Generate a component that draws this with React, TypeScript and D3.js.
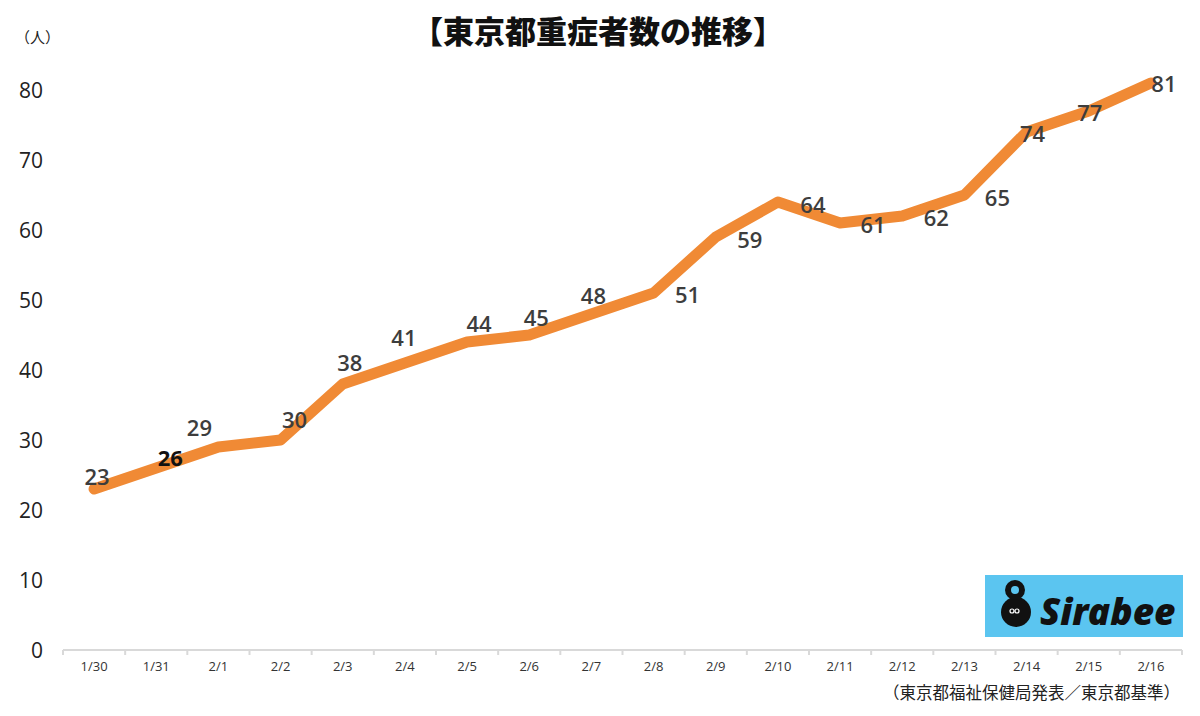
import React from "react";
import * as d3 from "d3";

const categories = ["1/30","1/31","2/1","2/2","2/3","2/4","2/5","2/6","2/7","2/8","2/9","2/10","2/11","2/12","2/13","2/14","2/15","2/16"];
const values = [23,26,29,30,38,41,44,45,48,51,59,64,61,62,65,74,77,81];
const yTicks = [0,10,20,30,40,50,60,70,80];
// label placement offsets (layout only)
const labelDx = [3,14,-19,14,7,-1,12,7,2,34,34,35,33,34,33,6,1,13];
const labelDy = [-12,-10,-19,-20,-21,-25,-18,-17,-18,2,3,3,2,2,3,2,2,1];

const W = 1200, H = 716;
const FONT = "'Noto Sans CJK JP', 'Noto Sans', sans-serif";
const NUM = "'Open Sans', 'Noto Sans', sans-serif";

export default function App() {
  const x = d3.scaleBand<string>().domain(categories).range([63, 1182]);
  const y = d3.scaleLinear().domain([0, 80]).range([650, 90]);
  const line = d3.line<number>()
    .x((_, i) => (x(categories[i]) as number) + x.bandwidth() / 2)
    .y(d => y(d));
  const edges = categories.map(c => x(c) as number).concat([1182]);
  return (
    <svg width={W} height={H} style={{ position: "absolute", left: 0, top: 0, background: "#fff" }}>
      <rect x={0} y={0} width={W} height={H} fill="#fff" />
      <text x={598} y={43} textAnchor="middle" fontFamily={FONT} fontWeight={900} fontSize={31} fill="#111">【東京都重症者数の推移】</text>
      <text x={15} y={43} fontFamily={FONT} fontSize={15} fill="#222">（人）</text>
      {yTicks.map(t => (
        <text key={t} x={43} y={y(t) + 8} textAnchor="end" fontFamily={NUM} fontSize={21} fill="#222">{t}</text>
      ))}
      <line x1={63} x2={1182} y1={650} y2={650} stroke="#d9d9d9" strokeWidth={2} />
      {edges.map((e, i) => (
        <line key={i} x1={e} x2={e} y1={650} y2={655} stroke="#d9d9d9" strokeWidth={2} />
      ))}
      {categories.map(c => (
        <text key={c} x={(x(c) as number) + x.bandwidth() / 2} y={671} textAnchor="middle" fontFamily={NUM} fontSize={13} fill="#333">{c}</text>
      ))}
      <rect x={985} y={575} width={198} height={62} fill="#5BC5F0" />
      <g>
        <circle cx={1016} cy={612} r={15} fill="#111" />
        <circle cx={1015} cy={590} r={7} fill="none" stroke="#111" strokeWidth={6} />
        <circle cx={1012} cy={611} r={2} fill="none" stroke="#fff" strokeWidth={1.2} />
        <circle cx={1017} cy={611} r={2} fill="none" stroke="#fff" strokeWidth={1.2} />
        <text x={1040} y={625} fontFamily="'Noto Sans', sans-serif" fontWeight={900} fontStyle="italic" fontSize={37} fill="#111">Sirabee</text>
      </g>
      <path d={line(values) as string} fill="none" stroke="#F08A35" strokeWidth={11} strokeLinejoin="round" strokeLinecap="round" />
      {values.map((v, i) => (
        <text key={i} x={(x(categories[i]) as number) + x.bandwidth() / 2 + labelDx[i]} y={y(v) + labelDy[i] + 8}
          textAnchor="middle" fontFamily={NUM} fontWeight={i === 1 ? 700 : 600} fontSize={22} fill={i === 1 ? "#111" : "#3d3d3d"}>{v}</text>
      ))}
      <text x={1180} y={699} textAnchor="end" fontFamily={FONT} fontSize={16.5} fill="#222">（東京都福祉保健局発表／東京都基準）</text>
    </svg>
  );
}
